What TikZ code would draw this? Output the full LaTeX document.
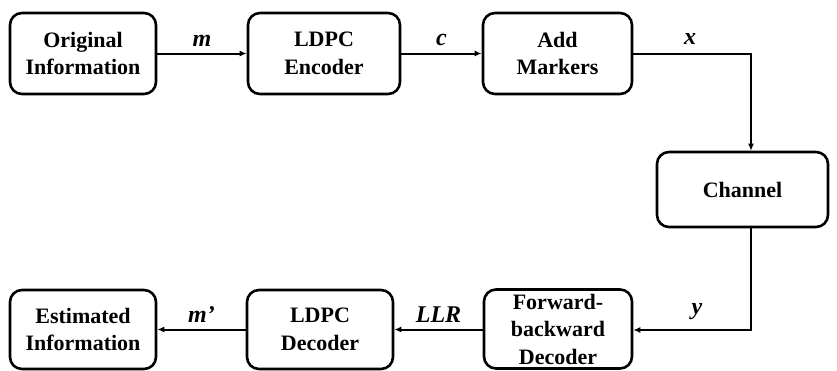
\documentclass[tikz,border=0pt]{standalone}
\usepackage{fontspec}
\setmainfont{Liberation Serif}
\usetikzlibrary{arrows.meta}
\begin{document}
\begin{tikzpicture}[x=1pt,y=-1pt,
  blk/.style={draw, line width=2.6pt, rounded corners=12pt, align=center,
    font=\fontsize{22}{27.5}\selectfont\bfseries, inner sep=0pt},
  conn/.style={line width=2pt, -{Latex[length=7pt,width=6pt]}},
  lbl/.style={font=\fontsize{24}{26}\selectfont\bfseries\itshape}]
\useasboundingbox (0,0) rectangle (837,370);
% top row
\node[blk, minimum width=146pt, minimum height=81pt] (orig) at (83,53.5) {Original\\Information};
\node[blk, minimum width=152pt, minimum height=81pt] (enc) at (324,53.5) {LDPC\\Encoder};
\node[blk, minimum width=149pt, minimum height=81pt] (mark) at (557.5,53.5) {Add\\Markers};
% channel
\node[blk, minimum width=171pt, minimum height=75pt] (chan) at (742.5,189.5) {Channel};
% bottom row
\node[blk, minimum width=148pt, minimum height=79pt] (fb) at (558,329) {Forward-\\backward\\Decoder};
\node[blk, minimum width=146pt, minimum height=79pt] (dec) at (320,329.5) {LDPC\\Decoder};
\node[blk, minimum width=146pt, minimum height=79pt] (est) at (83,329.5) {Estimated\\Information};
% connectors
\coordinate (tr) at (751,53.5);
\coordinate (br) at (751,330);
\draw[conn] (orig) -- node[lbl, above=3pt] {m} (enc);
\draw[conn] (enc) -- node[lbl, above=3pt] {c} (mark);
\draw[conn] (mark.east) -- (tr) -- (tr |- chan.north);
\draw[conn] (br |- chan.south) -- (br) -- (fb.east |- br);
\draw[conn] (fb.west |- dec) -- node[lbl, above=3pt] {LLR} (dec.east);
\draw[conn] (dec) -- node[lbl, above=3pt] {m’} (est);
\node[lbl] (xl) at (690,39) {x};
\node[lbl] (yl) at (697,312) {y};
\end{tikzpicture}
\end{document}
